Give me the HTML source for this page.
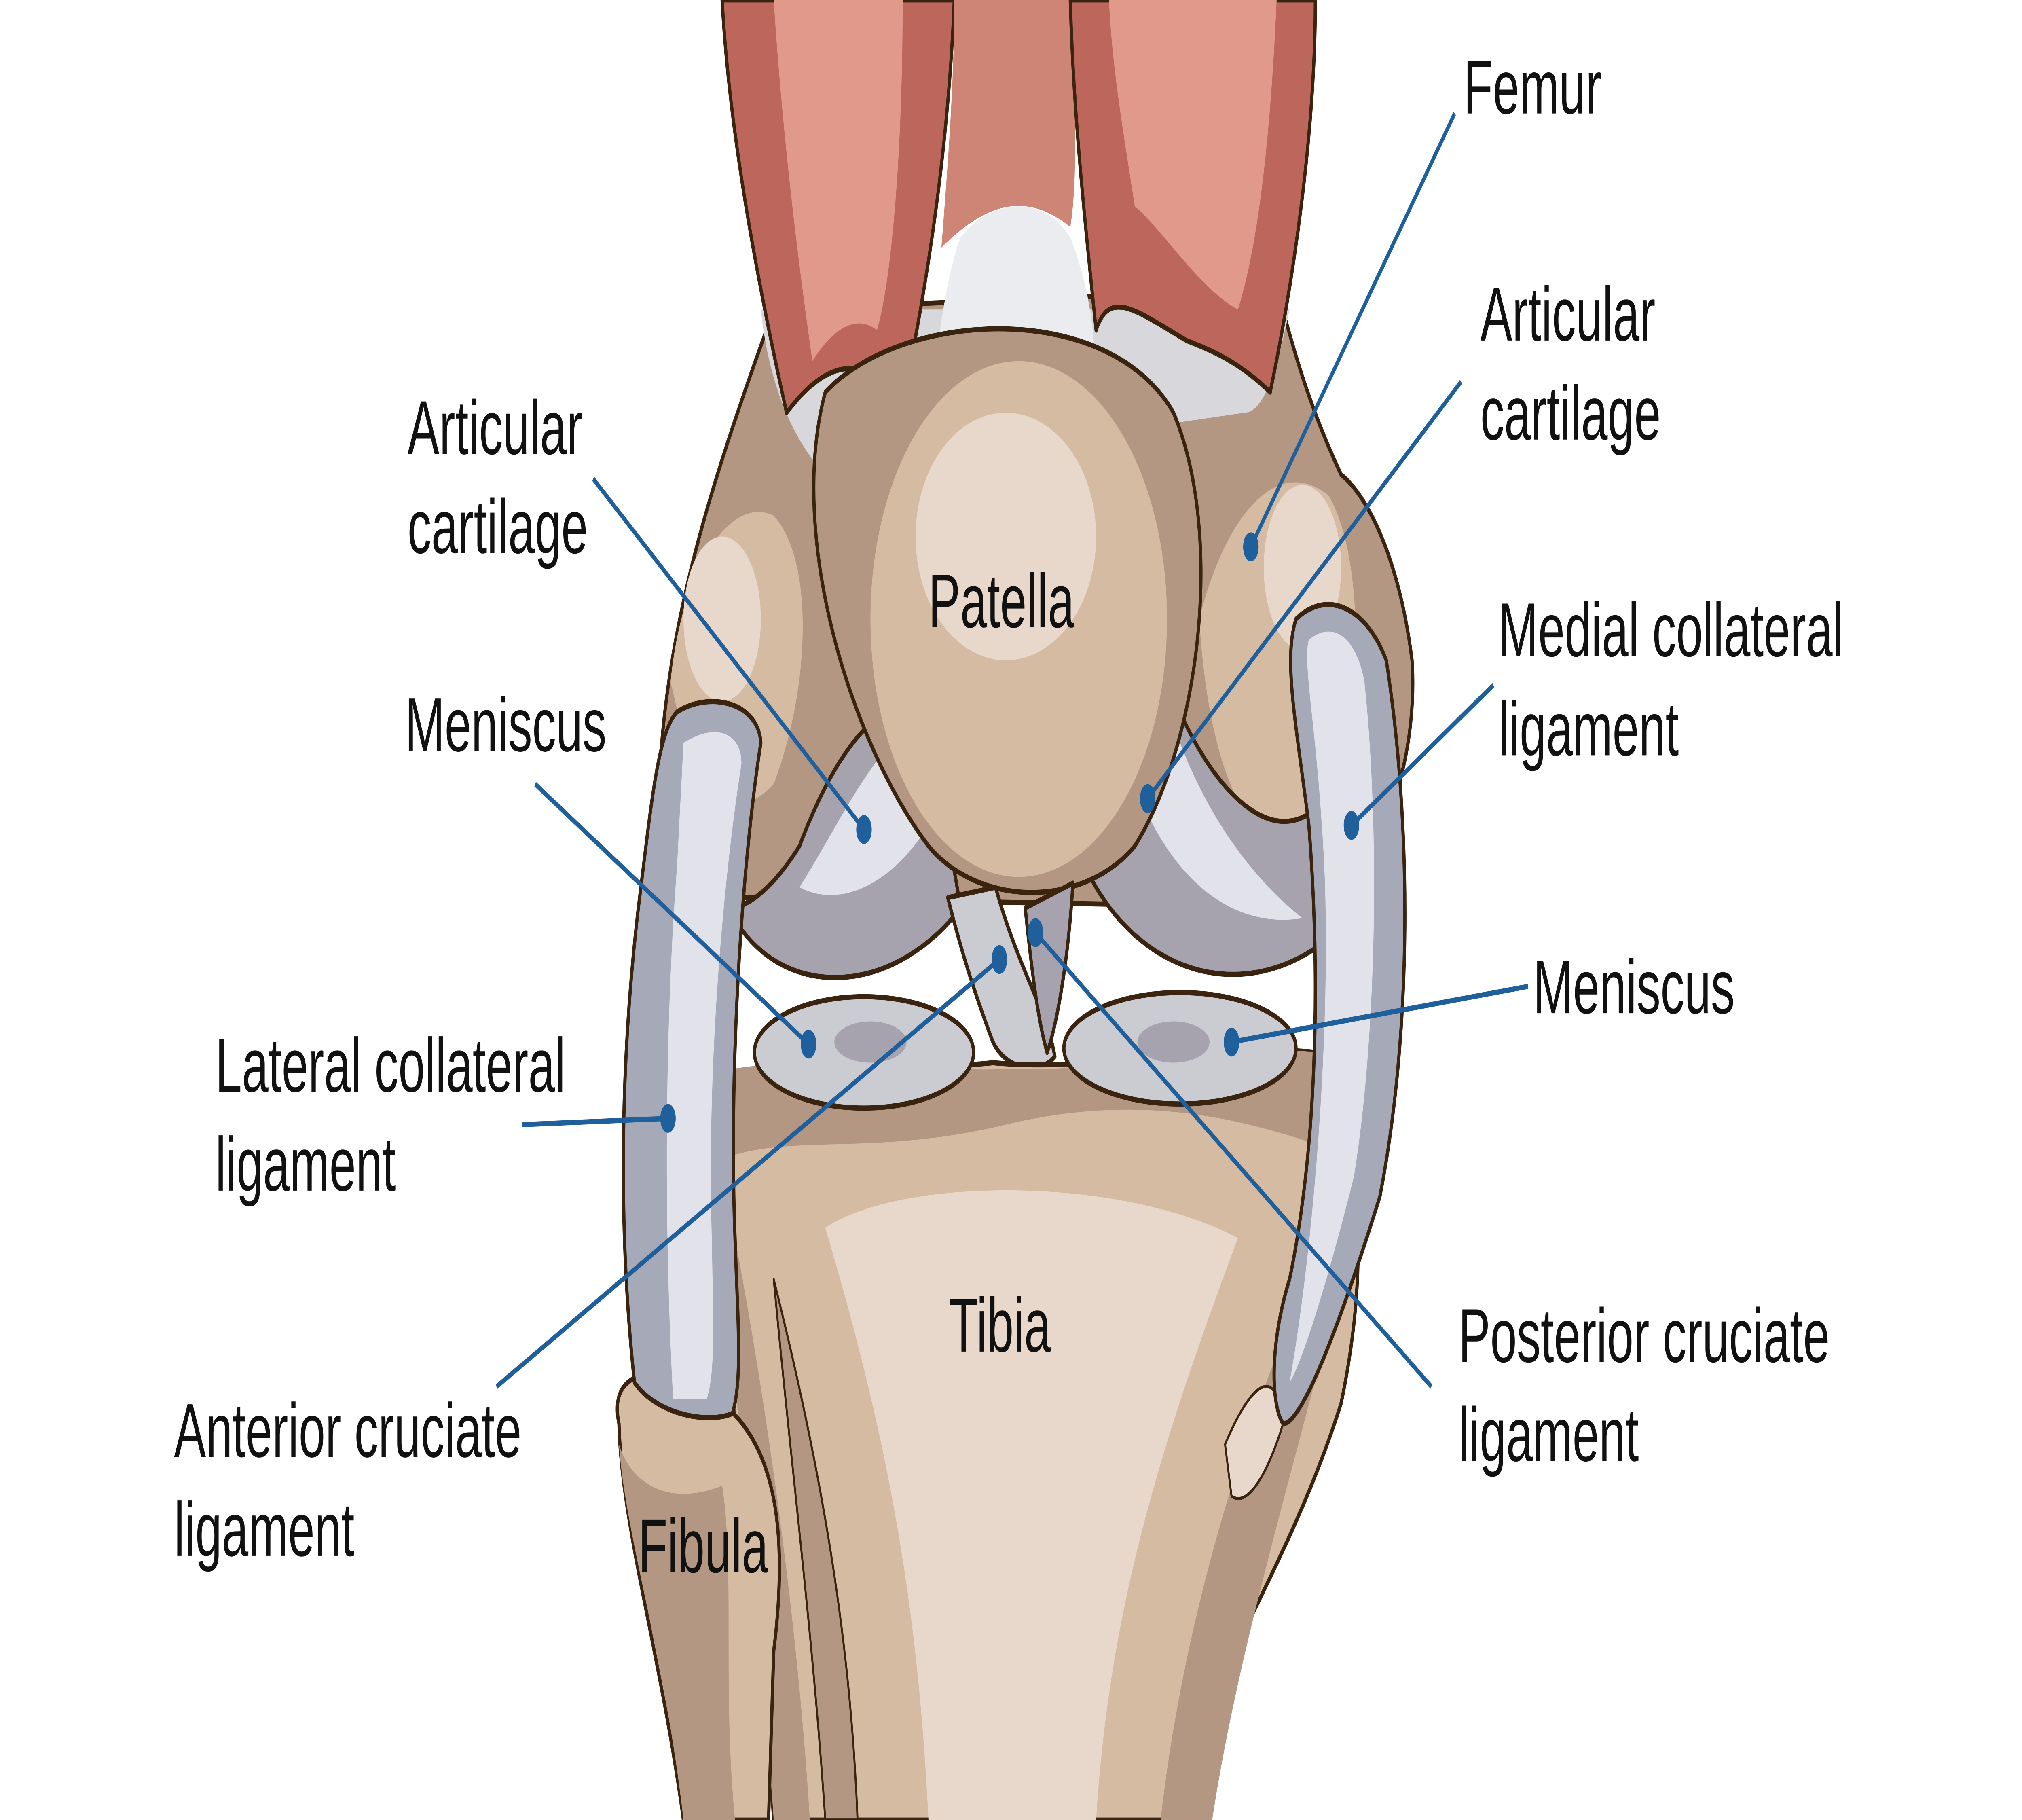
<!DOCTYPE html>
<html><head><meta charset="utf-8"><style>
html,body{margin:0;padding:0;background:#fff;width:100%;height:100%;overflow:hidden}
svg{display:block;width:100vw;height:100vh}
text{font-family:"Liberation Sans",sans-serif;font-size:37px;fill:#111}
</style></head><body>
<svg viewBox="0 0 1568 882" preserveAspectRatio="none" xmlns="http://www.w3.org/2000/svg">
<g stroke="#3a2410" stroke-width="2.5" stroke-linejoin="round">
<path d="M600,150 C560,220 520,290 512,370 C510,410 540,430 570,435 L1030,440 C1070,420 1100,370 1095,320 C1085,270 1060,240 1040,230 C1010,190 1000,160 990,140 Z" fill="#b39783"/>
<path d="M590,150 L1000,150 C990,180 980,200 965,200 L640,230 C610,210 595,180 590,150 Z" fill="#d8d8dc" stroke="none"/>
<path d="M560,0 L740,0 C735,80 715,150 700,195 C670,170 640,175 610,200 C585,130 565,60 560,0 Z" fill="#bd665c"/>
<path d="M600,0 L700,0 C700,80 690,140 680,160 C660,150 640,165 630,175 C615,110 605,50 600,0 Z" fill="#e1998c" stroke="none"/>
<path d="M740,0 L830,0 C835,60 835,90 830,110 C800,95 770,95 730,120 C735,80 740,40 740,0 Z" fill="#ce8576" stroke="none"/>
<path d="M745,115 C770,95 810,95 830,115 C845,140 850,160 850,200 L720,210 C725,170 735,130 745,115 Z" fill="#ebecf0" stroke="none"/>
<path d="M830,0 L1020,0 C1020,60 1005,130 985,190 C960,175 940,170 920,165 C880,150 860,140 850,160 C840,100 832,50 830,0 Z" fill="#bd665c"/>
<path d="M860,0 L990,0 C985,70 975,120 960,150 C930,140 900,110 880,100 C870,60 862,30 860,0 Z" fill="#e1998c" stroke="none"/>
<path d="M520,330 C530,270 570,240 600,250 C630,270 630,330 600,380 C570,400 540,390 520,330 Z" fill="#d6bba3" stroke="none"/>
<ellipse cx="560" cy="300" rx="30" ry="40" fill="#e8d8cc" stroke="none"/>
<path d="M930,300 C950,250 990,220 1030,240 C1060,270 1060,360 1020,405 C990,420 940,400 930,300 Z" fill="#d6bba3" stroke="none"/>
<ellipse cx="1010" cy="275" rx="30" ry="40" fill="#e8d8cc" stroke="none"/>
<path d="M565,440 C600,485 690,485 745,440 L720,350 C690,330 650,360 620,410 C600,430 580,440 565,440 Z" fill="#a6a3ae"/>
<path d="M620,430 C650,440 690,430 720,400 L705,355 C680,360 650,400 620,430 Z" fill="#e2e3ea" stroke="none"/>
<path d="M835,410 C870,470 960,490 1030,455 L1030,385 C990,420 930,380 900,320 Z" fill="#a6a3ae"/>
<path d="M880,380 C910,430 960,450 1010,445 C960,420 920,380 900,330 Z" fill="#e2e3ea" stroke="none"/>
<path d="M640,190 C700,150 860,145 910,200 C950,260 930,360 880,410 C840,440 760,440 720,410 C660,360 610,260 640,190 Z" fill="#b39783"/>
<ellipse cx="790" cy="300" rx="115" ry="125" fill="#d6bba3" stroke="none"/>
<ellipse cx="780" cy="260" rx="70" ry="60" fill="#e8d8cc" stroke="none"/>
<path d="M735,435 L772,430 C790,470 812,490 818,512 C805,522 780,518 770,505 C755,480 745,460 735,435 Z" fill="#cbccd1"/>
<path d="M795,440 L832,428 C828,470 818,500 812,510 C805,495 800,470 795,440 Z" fill="#a6a3ae"/>
<path d="M565,525 C600,512 700,520 770,515 C850,520 950,505 1020,510 C1060,560 1060,620 1040,680 C1000,760 930,820 905,882 L600,882 C590,790 560,700 568,600 Z" fill="#d6bba3"/>
<path d="M568,518 C650,510 720,520 780,518 C860,520 950,505 1022,510 L1045,560 C960,540 880,530 780,545 C680,560 620,550 568,560 Z" fill="#b39783" stroke="none"/>
<path d="M640,595 C700,570 870,570 960,600 C900,700 860,780 850,882 L720,882 C712,780 690,700 640,595 Z" fill="#e8d8cc" stroke="none"/>
<path d="M570,600 C600,700 620,800 628,882 L600,882 C590,790 565,700 570,600 Z" fill="#b39783" stroke="none"/>
<path d="M600,620 C640,720 660,800 665,882 L640,882 C630,790 615,720 600,620 Z" fill="#b39783" stroke="#3a2410" stroke-width="1.5"/>
<path d="M1040,620 C1000,720 960,800 940,882 L900,882 C915,800 950,720 1000,640 Z" fill="#b39783" stroke="none"/>
<path d="M950,700 C970,670 990,660 995,690 C980,720 965,730 955,725 Z" fill="#e8d8cc" stroke="#3a2410" stroke-width="1.5"/>
<path d="M480,690 C470,660 520,660 560,680 C600,700 612,740 600,800 L596,882 L530,882 C512,800 482,740 480,690 Z" fill="#d6bba3"/>
<path d="M480,700 C490,720 520,730 560,720 C570,760 560,820 570,882 L530,882 C515,800 485,745 480,700 Z" fill="#b39783" stroke="none"/>
<path d="M525,345 C550,335 588,340 590,360 C575,420 565,520 570,600 C572,640 576,668 568,685 C550,690 510,686 492,670 C480,600 480,520 495,440 C505,390 510,355 525,345 Z" fill="#a6a9b8"/>
<path d="M530,360 C555,350 575,355 575,370 C560,430 548,520 552,600 C553,640 555,665 548,678 L522,678 C515,600 515,500 525,420 Z" fill="#e2e3ea" stroke="none"/>
<path d="M1005,300 C1030,285 1060,295 1075,320 C1095,400 1095,500 1070,580 C1040,640 1010,690 995,690 C985,680 985,650 1000,620 C1020,560 1025,480 1015,400 C1005,350 995,320 1005,300 Z" fill="#a6a9b8"/>
<path d="M1015,310 C1035,300 1052,310 1058,330 C1070,400 1068,500 1050,570 C1030,620 1010,660 1000,670 C1020,600 1035,480 1025,400 C1020,350 1010,320 1015,310 Z" fill="#e2e3ea" stroke="none"/>
<ellipse cx="670" cy="510" rx="85" ry="27" fill="#cbccd1"/>
<ellipse cx="675" cy="505" rx="28" ry="10" fill="#a6a3ae" stroke="none"/>
<ellipse cx="915" cy="508" rx="90" ry="27" fill="#cbccd1"/>
<ellipse cx="910" cy="505" rx="28" ry="10" fill="#a6a3ae" stroke="none"/>
</g>
<g stroke="#1f5f9b" stroke-width="2.5" fill="none">
<line x1="970" y1="265" x2="1128" y2="55"/>
<line x1="890" y1="387" x2="1133" y2="185"/>
<line x1="1048" y1="400" x2="1158" y2="332"/>
<line x1="955" y1="505" x2="1185" y2="478"/>
<line x1="803" y1="452" x2="1110" y2="672"/>
<line x1="460" y1="232" x2="670" y2="402"/>
<line x1="415" y1="380" x2="627" y2="506"/>
<line x1="405" y1="545" x2="518" y2="542"/>
<line x1="385" y1="672" x2="775" y2="465"/>
</g>
<g fill="#1f5f9b">
<ellipse cx="970" cy="265" rx="6" ry="7"/>
<ellipse cx="890" cy="387" rx="6" ry="7"/>
<ellipse cx="1048" cy="400" rx="6" ry="7"/>
<ellipse cx="955" cy="505" rx="6" ry="7"/>
<ellipse cx="803" cy="452" rx="6" ry="7"/>
<ellipse cx="670" cy="402" rx="6" ry="7"/>
<ellipse cx="627" cy="506" rx="6" ry="7"/>
<ellipse cx="518" cy="542" rx="6" ry="7"/>
<ellipse cx="775" cy="465" rx="6" ry="7"/>
</g>
<text x="1135" y="55">Femur</text>
<text x="1148" y="165">Articular</text>
<text x="1148" y="213">cartilage</text>
<text x="1162" y="318">Medial collateral</text>
<text x="1162" y="366">ligament</text>
<text x="1189" y="491">Meniscus</text>
<text x="1131" y="660">Posterior cruciate</text>
<text x="1131" y="708">ligament</text>
<text x="736" y="655">Tibia</text>
<text x="720" y="304">Patella</text>
<text x="495" y="762">Fibula</text>
<text x="316" y="220">Articular</text>
<text x="316" y="268">cartilage</text>
<text x="314" y="364">Meniscus</text>
<text x="167" y="529">Lateral collateral</text>
<text x="167" y="577">ligament</text>
<text x="135" y="706">Anterior cruciate</text>
<text x="135" y="754">ligament</text>
</svg>
</body></html>
